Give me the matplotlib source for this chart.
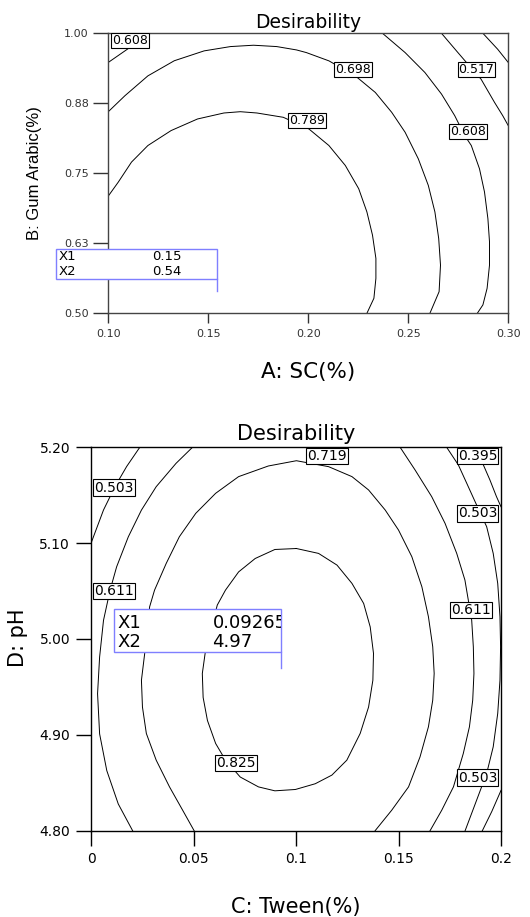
import matplotlib
matplotlib.use('Agg')
import matplotlib.pyplot as plt
from matplotlib.patches import Rectangle
from matplotlib.lines import Line2D
from matplotlib.transforms import IdentityTransform

plt.rcParams['font.family'] = ['DejaVu Sans']

# ---- top plot: A: SC(%) vs B: Gum Arabic(%) ----
top_xticks = [0.10, 0.15, 0.20, 0.25, 0.30]
top_xticklabels = ['0.10', '0.15', '0.20', '0.25', '0.30']
top_yticks = [0.50, 0.625, 0.75, 0.875, 1.00]
top_yticklabels = ['0.50', '0.63', '0.75', '0.88', '1.00']

# traced contour lines (x, y)
top_789_x = [0.1, 0.105, 0.1116, 0.1198, 0.1314, 0.1446, 0.1578, 0.166, 0.1743, 0.1875,
             0.2003, 0.2103, 0.2185, 0.2252, 0.2293, 0.2321, 0.2338, 0.2338, 0.2328, 0.2293]
top_789_y = [0.7094, 0.7343, 0.770, 0.7996, 0.8263, 0.847, 0.8577, 0.860, 0.8577, 0.850,
             0.8292, 0.7996, 0.764, 0.7225, 0.681, 0.6395, 0.598, 0.5624, 0.5268, 0.5]
top_698_x = [0.1, 0.1083, 0.1198, 0.133, 0.1479, 0.1611, 0.1726, 0.1842, 0.1941, 0.1990, 0.2103,
             0.2235, 0.2335, 0.2417, 0.2484, 0.255, 0.26, 0.2633, 0.2652, 0.2661, 0.2654, 0.2608]
top_698_y = [0.860, 0.8885, 0.924, 0.951, 0.9686, 0.9763, 0.9787, 0.9763, 0.9703, 0.9656, 0.9508,
             0.924, 0.8944, 0.8589, 0.8233, 0.7759, 0.7284, 0.681, 0.6335, 0.586, 0.5386, 0.5]
top_608a_x = [0.1, 0.1107, 0.12]
top_608a_y = [0.948, 0.9745, 1.0]
top_608b_x = [0.2371, 0.2484, 0.2583, 0.2666, 0.2732, 0.2782, 0.2815, 0.2856, 0.2881, 0.2898,
              0.2906, 0.2906, 0.2894, 0.2873, 0.2845]
top_608b_y = [1.0, 0.9656, 0.930, 0.8915, 0.853, 0.8174, 0.7996, 0.758, 0.7166, 0.669,
              0.6276, 0.586, 0.5446, 0.515, 0.5]
top_517_x = [0.2666, 0.2748, 0.2798, 0.2864, 0.2931, 0.2972, 0.3]
top_517_y = [1.0, 0.9656, 0.9449, 0.918, 0.8767, 0.853, 0.835]
top_426_x = [0.2873, 0.2947, 0.3]
top_426_y = [1.0, 0.9715, 0.9478]

top_lines = [(top_789_x, top_789_y), (top_698_x, top_698_y), (top_608a_x, top_608a_y),
             (top_608b_x, top_608b_y), (top_517_x, top_517_y), (top_426_x, top_426_y)]
top_labels = ['0.608', '0.698', '0.789', '0.517', '0.608']
top_label_x = [0.1109, 0.2222, 0.1994, 0.2841, 0.2798]
top_label_y = [0.9875, 0.936, 0.844, 0.936, 0.824]
top_flag = (0.1545, 0.54)
top_flag_text = ['0.15', '0.54']

# ---- bottom plot: C: Tween(%) vs D: pH ----
bot_xticks = [0, 0.05, 0.1, 0.15, 0.2]
bot_xticklabels = ['0', '0.05', '0.1', '0.15', '0.2']
bot_yticks = [4.80, 4.90, 5.00, 5.10, 5.20]
bot_yticklabels = ['4.80', '4.90', '5.00', '5.10', '5.20']

bot_825_x = [0.1002, 0.0897, 0.0801, 0.072, 0.0656, 0.0616, 0.0559, 0.0543, 0.0547, 0.0568,
             0.0608, 0.0656, 0.0728, 0.0817, 0.0897, 0.0997, 0.1094, 0.1175, 0.1248, 0.1313,
             0.1354, 0.1375, 0.1378, 0.1362, 0.133, 0.1273, 0.12, 0.111, 0.1002]
bot_825_y = [5.0944, 5.0934, 5.084, 5.070, 5.051, 5.0354, 4.9885, 4.964, 4.939, 4.915,
             4.891, 4.8736, 4.856, 4.8457, 4.8416, 4.843, 4.849, 4.858, 4.8736, 4.9014,
             4.929, 4.957, 4.985, 5.0126, 5.0371, 5.058, 5.0771, 5.0893, 5.0944]
bot_719_x = [0.0503, 0.0447, 0.0383, 0.0318, 0.027, 0.0251, 0.0246, 0.0262, 0.0286, 0.031,
             0.0367, 0.0431, 0.0511, 0.0608, 0.072, 0.0865, 0.1002, 0.1159, 0.1273, 0.1354,
             0.1435, 0.15, 0.1565, 0.1614, 0.1646, 0.1667, 0.1674, 0.1667, 0.1646, 0.1605,
             0.1549, 0.1467, 0.1386]
bot_719_y = [4.8, 4.8214, 4.8457, 4.8736, 4.9014, 4.929, 4.957, 4.985, 5.0336, 5.051,
             5.0789, 5.1067, 5.1311, 5.152, 5.1694, 5.1805, 5.186, 5.1798, 5.1694, 5.1555,
             5.1346, 5.1137, 5.0859, 5.0545, 5.0232, 4.9919, 4.964, 4.9362, 4.9084, 4.877,
             4.8457, 4.8214, 4.8]
bot_611a_x = [0.0495, 0.0415, 0.0318, 0.0246, 0.0182, 0.0125, 0.0093, 0.0061, 0.0042, 0.0032,
              0.0042, 0.0077, 0.0133, 0.0203]
bot_611a_y = [5.2, 5.1833, 5.1589, 5.1345, 5.1066, 5.0753, 5.0509, 5.0195, 4.9812, 4.9429,
              4.901, 4.8627, 4.8279, 4.8]
bot_611b_x = [0.1508, 0.1581, 0.1662, 0.1727, 0.1784, 0.1824, 0.1857, 0.1865, 0.1868, 0.1862,
              0.1846, 0.1816, 0.1768, 0.1711, 0.1654]
bot_611b_y = [5.2, 5.1763, 5.1485, 5.1207, 5.0893, 5.0615, 5.0197, 4.9919, 4.964, 4.9362,
              4.9084, 4.8805, 4.8457, 4.8214, 4.8]
bot_503a_x = [0.0238, 0.0174, 0.0117, 0.0061, 0.0]
bot_503a_y = [5.2, 5.18, 5.159, 5.1346, 5.0998]
bot_503b_x = [0.1735, 0.1792, 0.1833, 0.1881, 0.193, 0.1962, 0.1984, 0.1995, 0.1998, 0.1995,
              0.1984, 0.1962, 0.193, 0.1881, 0.1825]
bot_503b_y = [5.2, 5.1816, 5.1624, 5.1398, 5.1172, 5.0893, 5.058, 5.0232, 4.9919, 4.957,
              4.9223, 4.8875, 4.8597, 4.8318, 4.8]
bot_395a_x = [0.1865, 0.1914, 0.1946, 0.1978, 0.2]
bot_395a_y = [5.2, 5.1816, 5.1659, 5.1485, 5.138]
bot_395b_x = [0.1909, 0.1955, 0.2]
bot_395b_y = [4.8, 4.82, 4.842]

bot_lines = [(bot_825_x, bot_825_y), (bot_719_x, bot_719_y), (bot_611a_x, bot_611a_y),
             (bot_611b_x, bot_611b_y), (bot_503a_x, bot_503a_y), (bot_503b_x, bot_503b_y),
             (bot_395a_x, bot_395a_y), (bot_395b_x, bot_395b_y)]
bot_labels = ['0.503', '0.611', '0.719', '0.395', '0.503', '0.611', '0.503', '0.825']
bot_label_x = [0.0111, 0.0111, 0.1153, 0.1886, 0.1886, 0.1855, 0.1886, 0.0707]
bot_label_y = [5.158, 5.05, 5.191, 5.191, 5.131, 5.0305, 4.8555, 4.871]
bot_flag = (0.0926, 4.97)
bot_flag_text = ['0.09265', '4.97']

W, H = 530, 917
fig = plt.figure(figsize=(W / 100, H / 100), dpi=100)

def px_rect(left, top, right, bottom):
    return [left / W, 1 - bottom / H, (right - left) / W, (bottom - top) / H]

def draw_panel(ax, lines, labels, lx, ly, fs, spine_col):
    for xs, ys in lines:
        ax.plot(xs, ys, color='black', lw=0.7)
    for t, x, y in zip(labels, lx, ly):
        ax.text(x, y, t, fontsize=fs, ha='center', va='center', clip_on=True, zorder=5,
                bbox=dict(boxstyle='square,pad=0.08', fc='white', ec='black', lw=0.8))
    for s in ax.spines.values():
        s.set_color(spine_col)
        s.set_linewidth(1.0)

def draw_flag(ax, point, texts, w, h, gap, val_dx, row1, row2, fs):
    px, py = ax.transData.transform(point)
    left = px - w
    bottom = py + gap
    rect = Rectangle((left, bottom), w, h, transform=IdentityTransform(),
                     fc='white', ec='#7f7fff', lw=1.0, zorder=10)
    fig.add_artist(rect)
    fig.add_artist(Line2D([px, px], [py, bottom], transform=IdentityTransform(),
                          color='#7f7fff', lw=1.0, zorder=10))
    top = bottom + h
    for name, val, dy in [('X1', texts[0], row1), ('X2', texts[1], row2)]:
        t1 = fig.text(left + 3, top - dy, name, transform=IdentityTransform(),
                      fontsize=fs, va='center', ha='left', zorder=11)
        t2 = fig.text(left + val_dx, top - dy, val, transform=IdentityTransform(),
                      fontsize=fs, va='center', ha='left', zorder=11)
        t1.set_clip_path(rect)
        t2.set_clip_path(rect)

# top panel
ax1 = fig.add_axes(px_rect(108.3, 33.3, 508.3, 313.3))
draw_panel(ax1, top_lines, top_labels, top_label_x, top_label_y, 9, '#444444')
ax1.set_xlim(0.10, 0.30)
ax1.set_ylim(0.50, 1.00)
ax1.set_xticks(top_xticks)
ax1.set_xticklabels(top_xticklabels)
ax1.set_yticks(top_yticks)
ax1.set_yticklabels(top_yticklabels)
ax1.tick_params(axis='both', direction='out', labelsize=8, colors='#333333', width=1.0)
ax1.tick_params(axis='y', length=11, pad=3)
ax1.tick_params(axis='x', length=7, pad=4)
ax1.set_title('Desirability', fontsize=13.5, pad=4)
fig.text(34.5 / W, 1 - 173 / H, 'B: Gum Arabic(%)', rotation=90, fontsize=12,
         family=['Liberation Sans', 'DejaVu Sans'], ha='center', va='center')
fig.text(308 / W, 1 - 372 / H, 'A: SC(%)', fontsize=15.5, ha='center', va='center')

# bottom panel
ax2 = fig.add_axes(px_rect(91, 447.3, 501, 830.7))
draw_panel(ax2, bot_lines, bot_labels, bot_label_x, bot_label_y, 10, 'black')
ax2.set_xlim(0, 0.2)
ax2.set_ylim(4.80, 5.20)
ax2.set_xticks(bot_xticks)
ax2.set_xticklabels(bot_xticklabels)
ax2.set_yticks(bot_yticks)
ax2.set_yticklabels(bot_yticklabels)
ax2.tick_params(axis='both', direction='out', labelsize=10, length=11, width=1.0, pad=4)
ax2.set_title('Desirability', fontsize=15, pad=5)
fig.text(18 / W, 1 - 638 / H, 'D: pH', rotation=90, fontsize=15, ha='center', va='center')
fig.text(296 / W, 1 - 907 / H, 'C: Tween(%)', fontsize=15, ha='center', va='center')

draw_flag(ax1, top_flag, top_flag_text, 161.6, 30.6, 11.7, 96, 7.8, 23.0, 9.5)
draw_flag(ax2, bot_flag, bot_flag_text, 166.7, 43.0, 16.0, 98.3, 14.0, 33.3, 13)

fig.savefig('out.png', dpi=100)
